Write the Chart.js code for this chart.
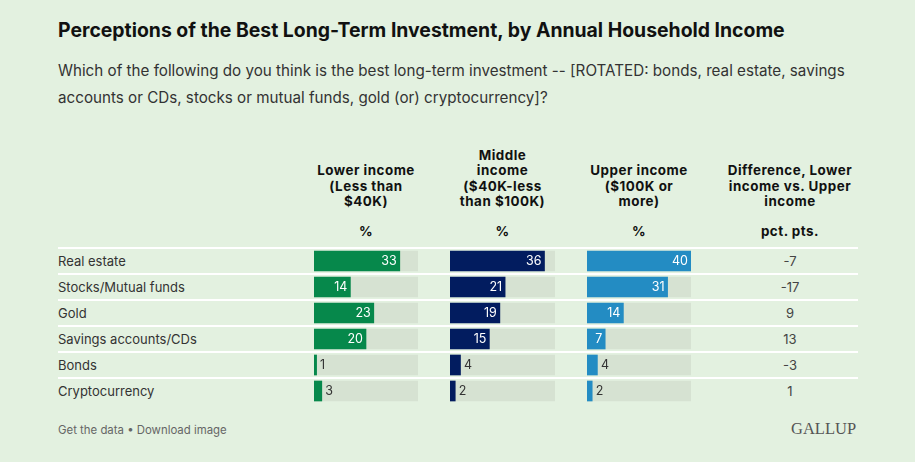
<!DOCTYPE html>
<html>
<head>
<meta charset="utf-8">
<script src="https://cdn.jsdelivr.net/npm/chart.js@4.4.1/dist/chart.umd.min.js"></script>
<style>
  html, body { margin: 0; padding: 0; }
  body { width: 915px; height: 462px; background: #e3f1e0; position: relative; overflow: hidden; font-family: Inter, "Noto Sans", sans-serif; color: #333; }
  .abs { position: absolute; }
  #title { left: 58px; top: 18px; font-size: 19.4px; line-height: 24px; font-weight: 700; color: #111; white-space: nowrap; }
  #subtitle { left: 58px; top: 57px; width: 800px; font-size: 15.2px; line-height: 27px; color: #333; }
  .head { width: 160px; text-align: center; font-size: 13.4px; letter-spacing: 0.5px; line-height: 15.2px; font-weight: 700; color: #111; bottom: 253px; }
  .unit { width: 160px; text-align: center; font-size: 13.4px; letter-spacing: 0.5px; line-height: 15px; font-weight: 700; color: #111; top: 224px; }
  .sep { left: 58px; width: 800px; height: 2px; background: #fff; }
  .rowlabel { left: 58px; font-size: 13px; line-height: 26px; color: #333; }
  .diff { left: 730px; width: 120px; text-align: center; font-size: 13px; line-height: 26px; color: #444; }
  .col { top: 248px; height: 156px; }
  #footer { left: 58px; top: 421px; font-size: 11.4px; line-height: 18px; color: #666; }
  #logo { left: 791px; top: 419px; font-family: "Liberation Serif", "DejaVu Serif", serif; font-size: 16.5px; line-height: 20px; color: #555; }
</style>
</head>
<body>
<div id="title" class="abs">Perceptions of the Best Long-Term Investment, by Annual Household Income</div>
<div id="subtitle" class="abs">Which of the following do you think is the best long-term investment -- [ROTATED: bonds, real estate, savings accounts or CDs, stocks or mutual funds, gold (or) cryptocurrency]?</div>
<div id="table"></div>
<div class="abs col" style="left:314px;width:104px"><canvas id="chartLower"></canvas></div>
<div class="abs col" style="left:450px;width:105px"><canvas id="chartMiddle"></canvas></div>
<div class="abs col" style="left:587px;width:104px"><canvas id="chartUpper"></canvas></div>
<div id="footer" class="abs">Get the data • Download image</div>
<div id="logo" class="abs">GALLUP</div>
<script>
const categories = ['Real estate', 'Stocks/Mutual funds', 'Gold', 'Savings accounts/CDs', 'Bonds', 'Cryptocurrency'];
const lowerIncome = [33, 14, 23, 20, 1, 3];
const middleIncome = [36, 21, 19, 15, 4, 2];
const upperIncome = [40, 31, 14, 7, 4, 2];
const difference = ['-7', '-17', '9', '13', '-3', '1'];
const columnHeaders = [
  ['Lower income', '(Less than', '$40K)'],
  ['Middle', 'income', '($40K-less', 'than $100K)'],
  ['Upper income', '($100K or', 'more)'],
  ['Difference, Lower', 'income vs. Upper', 'income'],
];
const columnUnits = ['%', '%', '%', 'pct. pts.'];
const scaleMax = 40;

// header + table text
const table = document.getElementById('table');
const headCenters = [366, 502.5, 639, 790];
columnHeaders.forEach((lines, i) => {
  const h = document.createElement('div');
  h.className = 'abs head';
  h.style.left = (headCenters[i] - 80) + 'px';
  h.innerHTML = lines.join('<br>');
  table.appendChild(h);
  const u = document.createElement('div');
  u.className = 'abs unit';
  u.style.left = (headCenters[i] - 80) + 'px';
  u.textContent = columnUnits[i];
  table.appendChild(u);
});
categories.forEach((label, i) => {
  const top = 248 + i * 26;
  const s = document.createElement('div');
  s.className = 'abs sep';
  s.style.top = (top - 1.5) + 'px';
  table.appendChild(s);
  const l = document.createElement('div');
  l.className = 'abs rowlabel';
  l.style.top = top + 'px';
  l.textContent = label;
  table.appendChild(l);
  const d = document.createElement('div');
  d.className = 'abs diff';
  d.style.top = top + 'px';
  d.textContent = difference[i];
  table.appendChild(d);
});

const valueLabels = {
  id: 'valueLabels',
  afterDatasetsDraw(chart) {
    const { ctx } = chart;
    const meta = chart.getDatasetMeta(0);
    const values = chart.data.datasets[0].data;
    ctx.save();
    ctx.font = '12.5px Inter, "Noto Sans", sans-serif';
    ctx.textBaseline = 'middle';
    meta.data.forEach((bar, i) => {
      const text = String(values[i]);
      const w = ctx.measureText(text).width;
      if (bar.x - bar.base > w + 8) {
        ctx.fillStyle = '#ffffff';
        ctx.textAlign = 'right';
        ctx.fillText(text, bar.x - 3, bar.y + 0.5);
      } else {
        ctx.fillStyle = '#333333';
        ctx.textAlign = 'left';
        ctx.fillText(text, bar.x + 3.5, bar.y + 0.5);
      }
    });
    ctx.restore();
  },
};

function buildColumn(id, values, color) {
  return new Chart(document.getElementById(id), {
    type: 'bar',
    data: {
      labels: categories,
      datasets: [
        { data: values, backgroundColor: color, order: 0 },
        { data: categories.map(() => scaleMax), backgroundColor: '#d6e2d2', order: 1 },
      ],
    },
    options: {
      indexAxis: 'y',
      responsive: true,
      maintainAspectRatio: false,
      animation: false,
      grouped: false,
      barThickness: 20,
      layout: { padding: 0 },
      scales: {
        x: { display: false, min: 0, max: scaleMax },
        y: { display: false },
      },
      plugins: { legend: { display: false }, tooltip: { enabled: false } },
    },
    plugins: [valueLabels],
  });
}

buildColumn('chartLower', lowerIncome, '#06884b');
buildColumn('chartMiddle', middleIncome, '#021c5f');
buildColumn('chartUpper', upperIncome, '#238cc3');
</script>
</body>
</html>
